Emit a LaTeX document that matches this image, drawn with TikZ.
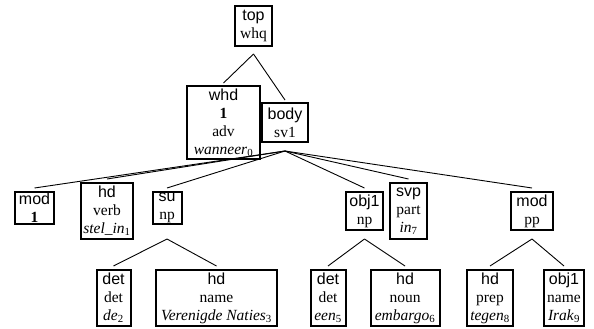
\documentclass[tikz,border=0pt]{standalone}
\usepackage{fontspec}
\setmainfont{Liberation Serif}
\setsansfont{Liberation Sans}
\tikzset{
  tn/.style={draw, line width=2pt, inner xsep=2.5pt, inner ysep=0pt, anchor=north, align=center,
    font=\fontsize{15.5}{18}\selectfont},
  edge/.style={line width=0.9pt},
}
\newcommand{\catlbl}[1]{{\sffamily\fontsize{16}{18}\selectfont #1}}
\newcommand{\wrd}[2]{\textit{#1}\textsubscript{\upshape #2}}
\begin{document}
\begin{tikzpicture}[x=1pt,y=-1pt]
\useasboundingbox (0,0) rectangle (594,329);
\node[tn, minimum width=37, minimum height=40] (top) at (253.5,5) {\catlbl{top}\\whq};
\node[tn, minimum width=73, minimum height=73] (whd) at (223.5,85) {\catlbl{whd}\\\textbf{1}\\adv\\\wrd{wanneer}{0}};
\node[tn, minimum width=46, minimum height=39] (body) at (285,102) {\catlbl{body}\\sv1};
\node[tn, minimum width=39, minimum height=32] (mod) at (34.5,191) {\catlbl{mod}\\\textbf{1}};
\node[tn, minimum width=50, minimum height=56] (hdv) at (107,182) {\catlbl{hd}\\verb\\\wrd{stel\_in}{1}};
\node[tn, minimum width=29, minimum height=32] (su) at (167,191) {\catlbl{su}\\np};
\node[tn, minimum width=37, minimum height=38] (obj) at (364.5,191) {\catlbl{obj1}\\np};
\node[tn, minimum width=37, minimum height=56] (svp) at (408.5,182) {\catlbl{svp}\\part\\\wrd{in}{7}};
\node[tn, minimum width=42, minimum height=38] (modpp) at (532,191) {\catlbl{mod}\\pp};
\node[tn, minimum width=34, minimum height=56] (detde) at (113.5,269) {\catlbl{det}\\det\\\wrd{de}{2}};
\node[tn, minimum width=121, minimum height=56] (hdname) at (216.5,269) {\catlbl{hd}\\name\\\wrd{Verenigde Naties}{3}};
\node[tn, minimum width=35, minimum height=56] (deteen) at (328,269) {\catlbl{det}\\det\\\wrd{een}{5}};
\node[tn, minimum width=69, minimum height=56] (hdnoun) at (405,269) {\catlbl{hd}\\noun\\\wrd{embargo}{6}};
\node[tn, minimum width=46, minimum height=56] (hdprep) at (490,269) {\catlbl{hd}\\prep\\\wrd{tegen}{8}};
\node[tn, minimum width=40, minimum height=56] (objirak) at (564,269) {\catlbl{obj1}\\name\\\wrd{Irak}{9}};
% apex points
\coordinate (atop) at ([yshift=-7]top.south);
\coordinate (abody) at ([yshift=-8]body.south);
\coordinate (asu) at ([yshift=-14]su.south);
\coordinate (aobj) at ([yshift=-8]obj.south);
\coordinate (amodpp) at ([yshift=-8]modpp.south);
% edges
\draw[edge] (atop) -- ([yshift=2]whd.north);
\draw[edge] (atop) -- ([yshift=2]body.north);
\foreach \c in {mod,hdv,su,obj,svp,modpp}
  \draw[edge] (abody) -- ([yshift=3]\c.north);
\foreach \c in {detde,hdname} \draw[edge] (asu) -- ([yshift=3]\c.north);
\foreach \c in {deteen,hdnoun} \draw[edge] (aobj) -- ([yshift=3]\c.north);
\foreach \c in {hdprep,objirak} \draw[edge] (amodpp) -- ([yshift=3]\c.north);
\end{tikzpicture}
\end{document}
